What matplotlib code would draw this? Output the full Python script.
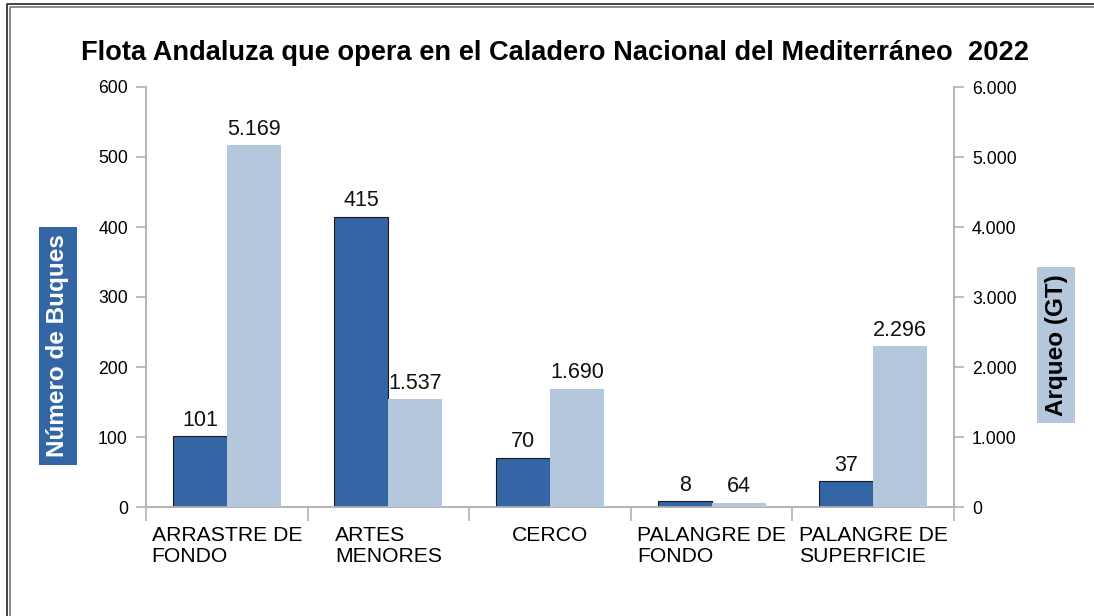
import numpy as np
import matplotlib.pyplot as plt
from matplotlib.lines import Line2D

plt.rcParams['font.family'] = ['Liberation Sans', 'DejaVu Sans']

# Data
categorias = ['ARRASTRE DE\nFONDO', 'ARTES\nMENORES', 'CERCO', 'PALANGRE DE\nFONDO', 'PALANGRE DE\nSUPERFICIE']
buques = [101, 415, 70, 8, 37]
arqueo = [5169, 1537, 1690, 64, 2296]

dark = '#3465a4'
light = '#b4c7dc'
axis_gray = '#b3b3b3'

W, H = 1094, 616
fig = plt.figure(figsize=(W / 100, H / 100), dpi=100)
ax = fig.add_axes([146 / W, 1 - 507 / H, 808 / W, 420 / H])
ax2 = ax.twinx()

x = np.arange(len(categorias))
w = 0.334

ax.bar(x - w / 2, buques, w, color=dark, edgecolor='#1a1a1a', linewidth=0.8, zorder=3)
ax2.bar(x + w / 2, arqueo, w, color=light, zorder=3)

ax.set_xlim(-0.5, len(categorias) - 0.5)
ax.set_ylim(0, 600)
ax2.set_ylim(0, 6000)
ax.set_yticks(np.arange(0, 601, 100))
ax2.set_yticks(np.arange(0, 6001, 1000))
ax2.set_yticklabels([f'{int(v):,}'.replace(',', '.') for v in np.arange(0, 6001, 1000)])

ax.set_xticks(x)
ax.set_xticklabels(categorias, fontsize=15.2, multialignment='left', linespacing=1.1)
ax.set_xticks(np.arange(-0.5, len(categorias)), minor=True)
ax.tick_params(axis='x', which='major', length=0, pad=14)
ax.tick_params(axis='x', which='minor', length=10, color=axis_gray, width=1.2)
ax.tick_params(axis='y', length=7, color=axis_gray, width=1.2, labelsize=12.7, pad=6)
ax2.tick_params(axis='y', length=7, color=axis_gray, width=1.2, labelsize=12.7, pad=6)

for a in (ax, ax2):
    a.spines['top'].set_visible(False)
    for s in ('left', 'right', 'bottom'):
        a.spines[s].set_color(axis_gray)
        a.spines[s].set_linewidth(1.2)

# value labels
for xi, v in zip(x, buques):
    ax.annotate(f'{v}', (xi - w / 2, v), xytext=(0, 4), textcoords='offset points',
                ha='center', va='bottom', fontsize=15.5, color='#111111')
for xi, v in zip(x, arqueo):
    ax2.annotate(f'{v:,}'.replace(',', '.'), (xi + w / 2, v), xytext=(0, 4), textcoords='offset points',
                 ha='center', va='bottom', fontsize=15.5, color='#111111')

# axis titles with coloured boxes
fig.text(58 / W, 1 - 346 / H, 'Número de Buques', rotation=90, ha='center', va='center',
         fontsize=17.5, fontweight='bold', color='white',
         bbox=dict(boxstyle='square,pad=0.3', facecolor=dark, edgecolor='none'))
fig.text(1056 / W, 1 - 345 / H, 'Arqueo (GT)', rotation=90, ha='center', va='center',
         fontsize=17.5, fontweight='bold', color='black',
         bbox=dict(boxstyle='square,pad=0.3', facecolor=light, edgecolor='none'))

fig.text(555 / W, 1 - 53 / H, 'Flota Andaluza que opera en el Caladero Nacional del Mediterráneo  2022',
         ha='center', va='center', fontsize=19.6, fontweight='bold')

# double frame on the top and left edges
fig.add_artist(Line2D([6.5 / W, 6.5 / W, 1], [0, 1 - 3.5 / H, 1 - 3.5 / H],
                      transform=fig.transFigure, color='#222222', linewidth=1.2))
fig.add_artist(Line2D([9.5 / W, 9.5 / W, 1], [0, 1 - 7 / H, 1 - 7 / H],
                      transform=fig.transFigure, color='#777777', linewidth=1.2))

fig.savefig('out.png', dpi=100)
